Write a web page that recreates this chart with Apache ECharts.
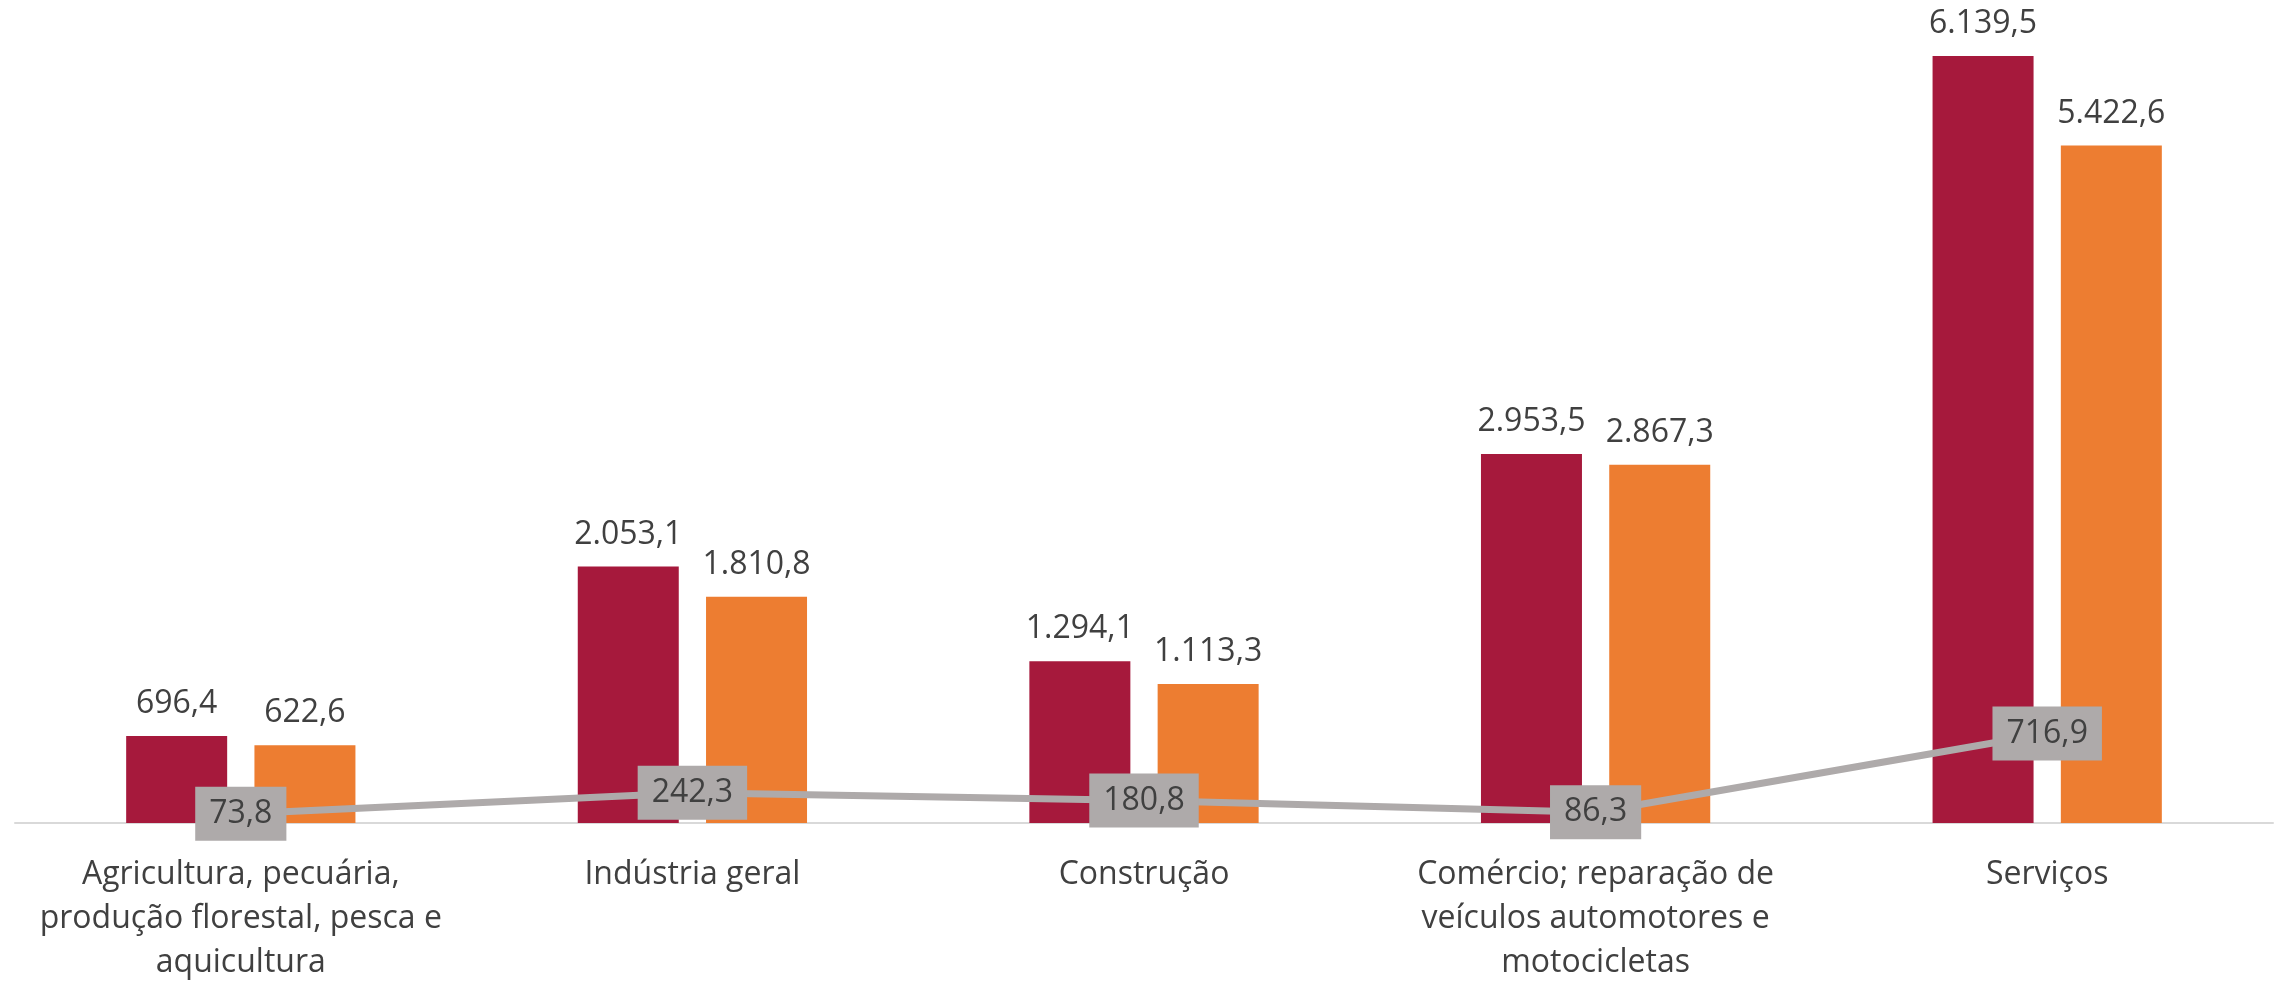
<!DOCTYPE html>
<html>
<head>
<meta charset="utf-8">
<script src="https://cdn.jsdelivr.net/npm/echarts@6/dist/echarts.min.js"></script>
<style>
html,body{margin:0;padding:0;background:#fff;}
#chart{width:2277px;height:985px;}
</style>
</head>
<body>
<div id="chart"></div>
<script>
const categories = [
  'Agricultura, pecuária,\nprodução florestal, pesca e\naquicultura',
  'Indústria geral',
  'Construção',
  'Comércio; reparação de\nveículos automotores e\nmotocicletas',
  'Serviços'
];
const seriesA = [696.4, 2053.1, 1294.1, 2953.5, 6139.5];
const seriesB = [622.6, 1810.8, 1113.3, 2867.3, 5422.6];
const seriesLine = [73.8, 242.3, 180.8, 86.3, 716.9];

function fmt(v) {
  const fixed = Number(v).toFixed(1);
  let [intPart, dec] = fixed.split('.');
  intPart = intPart.replace(/\B(?=(\d{3})+(?!\d))/g, '.');
  return intPart + ',' + dec;
}

const FONT = '"Open Sans", sans-serif';
const chart = echarts.init(document.getElementById('chart'), null, {renderer: 'canvas'});
chart.setOption({
  animation: false,
  backgroundColor: '#ffffff',
  grid: {left: 15, right: 4, top: 11, bottom: 157, containLabel: false},
  xAxis: {
    type: 'category',
    data: categories,
    axisLine: {show: true, lineStyle: {color: '#D9D9D9', width: 2}},
    axisTick: {show: false},
    axisLabel: {
      interval: 0,
      margin: 30,
      color: '#404040',
      fontFamily: FONT,
      fontSize: 32,
      lineHeight: 44,
      align: 'center'
    }
  },
  yAxis: {
    type: 'value',
    min: 0,
    max: 6500,
    show: false,
    splitLine: {show: false}
  },
  series: [
    {
      name: 'A',
      type: 'bar',
      data: seriesA,
      barWidth: 101,
      barGap: '27%',
      itemStyle: {color: '#A6193C'},
      label: {
        show: true,
        position: 'top',
        distance: 16,
        color: '#404040',
        fontFamily: FONT,
        fontSize: 32,
        formatter: p => fmt(p.value)
      },
      z: 2
    },
    {
      name: 'B',
      type: 'bar',
      data: seriesB,
      barWidth: 101,
      barGap: '27%',
      itemStyle: {color: '#ED7D31'},
      label: {
        show: true,
        position: 'top',
        distance: 16,
        color: '#404040',
        fontFamily: FONT,
        fontSize: 32,
        formatter: p => fmt(p.value)
      },
      z: 2
    },
    {
      name: 'L',
      type: 'line',
      data: seriesLine,
      symbol: 'rect',
      symbolSize: 1,
      showSymbol: true,
      lineStyle: {color: '#AEAAAA', width: 7},
      itemStyle: {color: '#AEAAAA'},
      label: {
        show: true,
        position: 'inside',
        color: '#404040',
        fontFamily: FONT,
        fontSize: 32,
        lineHeight: 32,
        backgroundColor: '#AEAAAA',
        padding: [11, 14, 11, 14],
        formatter: p => fmt(p.value)
      },
      z: 5
    }
  ]
});
</script>
</body>
</html>
